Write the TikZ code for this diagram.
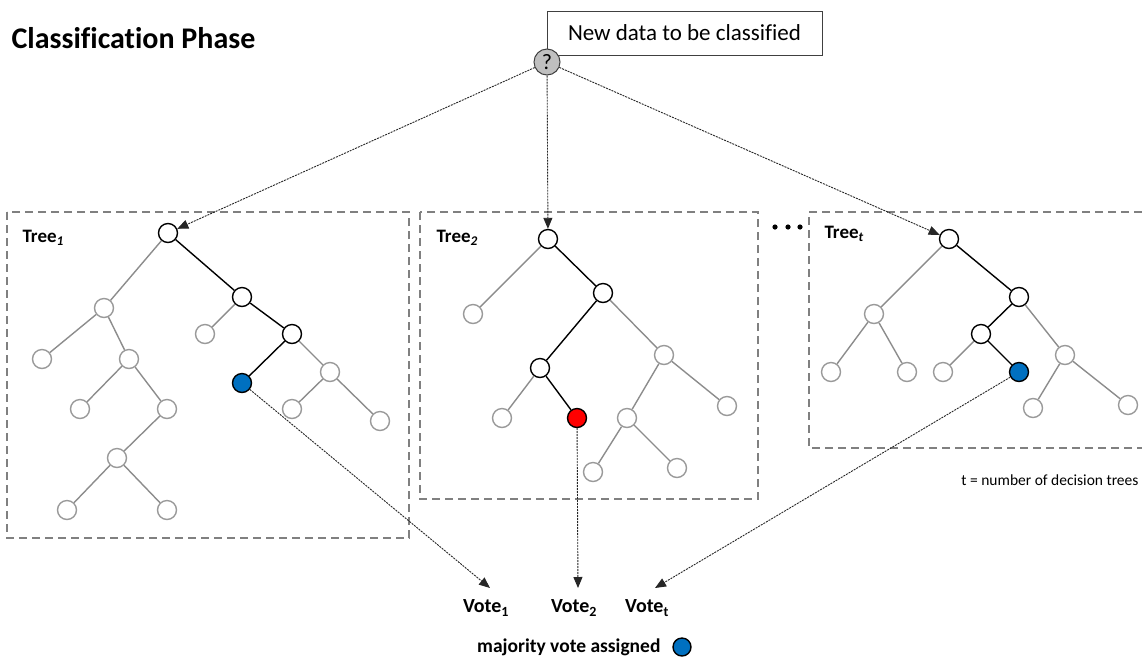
\documentclass[tikz,border=0pt]{standalone}
\usepackage{fontspec}
\setmainfont[Ligatures=NoCommon]{Carlito}
\usetikzlibrary{arrows.meta}
\definecolor{gedge}{HTML}{8C8C8C}
\definecolor{gnode}{HTML}{9A9A9A}
\definecolor{boxgray}{HTML}{808080}
\definecolor{vblue}{HTML}{0070C0}
\definecolor{vred}{HTML}{FF0000}
\definecolor{qgray}{HTML}{BFBFBF}
\tikzset{
  gn/.style={circle, draw=gnode, fill=white, line width=1.4pt, minimum size=19pt, inner sep=0pt},
  bn/.style={circle, draw=black, fill=white, line width=1.4pt, minimum size=19pt, inner sep=0pt},
  bluen/.style={bn, fill=vblue},
  redn/.style={bn, fill=vred},
  ge/.style={draw=gedge, line width=1.4pt},
  be/.style={draw=black, line width=1.4pt},
  treebox/.style={draw=boxgray, line width=1.4pt, dash pattern=on 8pt off 5pt},
  arr/.style={draw=black!85, line width=0.9pt, dash pattern=on 2pt off 1pt, -{Triangle[length=11pt,width=9pt]}},
  treelab/.style={font=\fontsize{19}{21}\selectfont\bfseries, anchor=west},
  votelab/.style={font=\fontsize{20}{22}\selectfont\bfseries}
}
\begin{document}
\begin{tikzpicture}[x=1pt,y=-1pt]
\useasboundingbox (0,0) rectangle (1142,657);

% title
\node[anchor=west, font=\fontsize{30}{34}\selectfont\bfseries] (title) at (8,38) {Classification Phase};

% new data box
\node[draw=black!75, line width=1pt, minimum width=275pt, minimum height=44pt, font=\fontsize{23}{26}\selectfont] (newdata) at (684.5,33) {New data to be classified};
\node[circle, draw=black!75, fill=qgray, line width=1pt, minimum size=26pt, inner sep=0pt, font=\fontsize{22}{24}\selectfont] (q) at (547,62) {?};

% tree boxes
\draw[treebox] (7,212) rectangle (409,538);
\draw[treebox] (420,212) rectangle (758,499);
\draw[treebox] (1142,212) -- (809,212) -- (809,448) -- (1142,448);

\node[treelab] (lab1) at (19,238) {Tree\textsubscript{\textit{1}}};
\node[treelab] (lab2) at (433,238) {Tree\textsubscript{\textit{2}}};
\node[treelab] (labt) at (821,234) {Tree\textsubscript{\textit{t}}};

% dots
\foreach \xx in {775,788,800} \fill (\xx,227) circle (2.6pt);

% ---- tree 1 ----
\node[bn] (t1r) at (168,233) {};
\node[bn] (t1a) at (242,297) {};
\node[bn] (t1b) at (292,334) {};
\node[bluen] (t1v) at (242,383) {};
\node[gn] (t1al) at (205,334) {};
\node[gn] (t1c) at (330,372) {};
\node[gn] (t1c1) at (292,409) {};
\node[gn] (t1c2) at (380,421) {};
\node[gn] (t1l) at (104,308) {};
\node[gn] (t1ll) at (42,359) {};
\node[gn] (t1lr) at (129,359) {};
\node[gn] (t1lrl) at (80,409) {};
\node[gn] (t1lrr) at (167,409) {};
\node[gn] (t1m) at (117,458) {};
\node[gn] (t1m1) at (67,510) {};
\node[gn] (t1m2) at (167,510) {};
\draw[be] (t1r) -- (t1a);
\draw[be] (t1a) -- (t1b);
\draw[be] (t1b) -- (t1v);
\draw[ge] (t1a) -- (t1al);
\draw[ge] (t1b) -- (t1c);
\draw[ge] (t1c) -- (t1c1);
\draw[ge] (t1c) -- (t1c2);
\draw[ge] (t1r) -- (t1l);
\draw[ge] (t1l) -- (t1ll);
\draw[ge] (t1l) -- (t1lr);
\draw[ge] (t1lr) -- (t1lrl);
\draw[ge] (t1lr) -- (t1lrr);
\draw[ge] (t1lrr) -- (t1m);
\draw[ge] (t1m) -- (t1m1);
\draw[ge] (t1m) -- (t1m2);

% ---- tree 2 ----
\node[bn] (t2r) at (548,239) {};
\node[gn] (t2l) at (473,314) {};
\node[bn] (t2a) at (603,293) {};
\node[bn] (t2b) at (540,368) {};
\node[gn] (t2bl) at (502,418) {};
\node[redn] (t2v) at (577,418) {};
\node[gn] (t2c) at (664,355) {};
\node[gn] (t2cr) at (727,406) {};
\node[gn] (t2d) at (627,418) {};
\node[gn] (t2d1) at (593,472) {};
\node[gn] (t2d2) at (677,468) {};
\draw[ge] (t2r) -- (t2l);
\draw[be] (t2r) -- (t2a);
\draw[be] (t2a) -- (t2b);
\draw[be] (t2b) -- (t2v);
\draw[ge] (t2b) -- (t2bl);
\draw[ge] (t2a) -- (t2c);
\draw[ge] (t2c) -- (t2cr);
\draw[ge] (t2c) -- (t2d);
\draw[ge] (t2d) -- (t2d1);
\draw[ge] (t2d) -- (t2d2);

% ---- tree t ----
\node[bn] (ttr) at (949,239) {};
\node[gn] (ttl) at (874,314) {};
\node[gn] (ttl1) at (831,372) {};
\node[gn] (ttl2) at (907,372) {};
\node[bn] (tta) at (1019,297) {};
\node[bn] (ttb) at (981,334) {};
\node[gn] (ttbl) at (943,372) {};
\node[bluen] (ttv) at (1019,372) {};
\node[gn] (ttc) at (1065,355) {};
\node[gn] (ttc1) at (1033,408) {};
\node[gn] (ttc2) at (1128,405) {};
\draw[ge] (ttr) -- (ttl);
\draw[ge] (ttl) -- (ttl1);
\draw[ge] (ttl) -- (ttl2);
\draw[be] (ttr) -- (tta);
\draw[be] (tta) -- (ttb);
\draw[be] (ttb) -- (ttv);
\draw[ge] (ttb) -- (ttbl);
\draw[ge] (tta) -- (ttc);
\draw[ge] (ttc) -- (ttc1);
\draw[ge] (ttc) -- (ttc2);

\node[anchor=east, font=\fontsize{15.5}{17}\selectfont] (tnote) at (1142,480) {t = number of decision trees};

% arrows from new data
\draw[arr] (q) -- (t1r);
\draw[arr] (q) -- (t2r);
\draw[arr] (q) -- (ttr);

% votes
\node[votelab] (v1) at (486,608) {Vote\textsubscript{1}};
\node[votelab] (v2) at (574,608) {Vote\textsubscript{2}};
\node[votelab] (vt) at (647,608) {Vote\textsubscript{t}};
\coordinate (v1tip) at (490,588);
\coordinate (v2tip) at (578,588);
\coordinate (vttip) at (655,588);
\draw[arr] (t1v) -- (v1tip);
\draw[arr] (t2v) -- (v2tip);
\draw[arr] (ttv) -- (vttip);

\node[anchor=east, font=\fontsize{19.5}{22}\selectfont\bfseries] (maj) at (664,647) {majority vote assigned};
\node[bluen, minimum size=18pt] (majc) at (682,647) {};
\end{tikzpicture}
\end{document}
